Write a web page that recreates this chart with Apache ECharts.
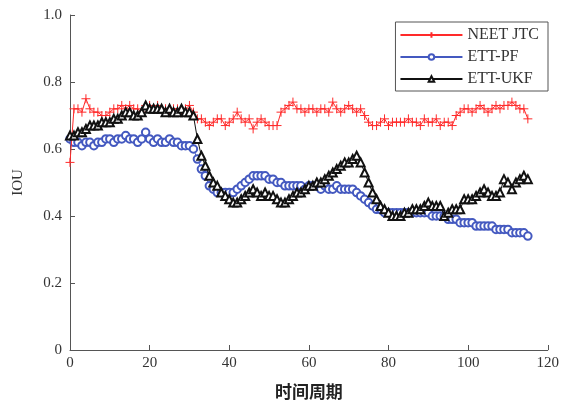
<!DOCTYPE html>
<html><head><meta charset="utf-8">
<script src="https://cdn.jsdelivr.net/npm/echarts@6/dist/echarts.min.js"></script>
<style>html,body{margin:0;padding:0;background:#fff}#c{width:562px;height:408px}</style>
</head><body><div id="c"></div>
<script>
var seriesNames = ['NEET JTC', 'ETT-PF', 'ETT-UKF'];
var xTicks = [0, 20, 40, 60, 80, 100, 120];
var yTicks = [0, 0.2, 0.4, 0.6, 0.8, 1.0];
var neetJtc = [0.56,0.72,0.72,0.71,0.75,0.72,0.71,0.71,0.70,0.70,0.71,0.72,0.72,0.73,0.72,0.73,0.72,0.72,0.71,0.73,
0.73,0.72,0.73,0.72,0.72,0.71,0.72,0.72,0.71,0.72,0.73,0.71,0.69,0.69,0.68,0.67,0.68,0.69,0.69,0.67,
0.68,0.69,0.71,0.69,0.68,0.69,0.66,0.68,0.69,0.68,0.67,0.67,0.67,0.71,0.72,0.73,0.74,0.72,0.72,0.71,
0.72,0.72,0.71,0.72,0.72,0.71,0.74,0.72,0.71,0.72,0.73,0.72,0.71,0.72,0.70,0.68,0.67,0.67,0.68,0.69,
0.67,0.68,0.68,0.68,0.68,0.69,0.68,0.68,0.67,0.69,0.68,0.68,0.69,0.67,0.68,0.68,0.67,0.70,0.71,0.72,
0.72,0.71,0.72,0.73,0.72,0.71,0.72,0.73,0.72,0.73,0.73,0.74,0.73,0.72,0.72,0.69];
var ettPf = [0.63,0.62,0.62,0.61,0.62,0.62,0.61,0.62,0.62,0.63,0.63,0.62,0.63,0.63,0.64,0.63,0.63,0.62,0.63,0.65,
0.63,0.62,0.63,0.62,0.62,0.63,0.62,0.62,0.61,0.61,0.61,0.60,0.57,0.54,0.52,0.49,0.48,0.47,0.47,0.47,
0.47,0.47,0.48,0.49,0.50,0.51,0.52,0.52,0.52,0.52,0.51,0.51,0.50,0.50,0.49,0.49,0.49,0.49,0.49,0.48,
0.49,0.49,0.49,0.48,0.49,0.48,0.48,0.49,0.48,0.48,0.48,0.48,0.47,0.46,0.45,0.44,0.43,0.42,0.42,0.41,
0.41,0.41,0.41,0.41,0.41,0.41,0.41,0.41,0.41,0.41,0.41,0.40,0.40,0.40,0.40,0.39,0.39,0.39,0.38,0.38,
0.38,0.38,0.37,0.37,0.37,0.37,0.37,0.36,0.36,0.36,0.36,0.35,0.35,0.35,0.35,0.34];
var ettUkf = [0.64,0.64,0.65,0.65,0.66,0.67,0.67,0.67,0.68,0.68,0.68,0.69,0.69,0.70,0.71,0.71,0.70,0.70,0.71,0.73,
0.72,0.72,0.72,0.72,0.71,0.72,0.71,0.71,0.72,0.71,0.71,0.70,0.63,0.58,0.55,0.52,0.50,0.49,0.47,0.46,
0.45,0.44,0.44,0.45,0.46,0.47,0.48,0.47,0.46,0.47,0.46,0.46,0.45,0.44,0.44,0.45,0.46,0.47,0.47,0.48,
0.49,0.49,0.50,0.50,0.51,0.52,0.53,0.54,0.55,0.56,0.56,0.57,0.58,0.56,0.53,0.50,0.47,0.45,0.43,0.42,
0.41,0.40,0.40,0.40,0.41,0.41,0.42,0.42,0.42,0.43,0.44,0.43,0.43,0.43,0.40,0.41,0.42,0.42,0.42,0.45,
0.45,0.45,0.46,0.47,0.48,0.47,0.46,0.46,0.47,0.51,0.50,0.48,0.50,0.51,0.52,0.51];

function pairs(arr){ return arr.map(function(v,i){ return [i, v]; }); }

var serif = '"Liberation Serif","DejaVu Serif",serif';
var chart = echarts.init(document.getElementById('c'), null, {renderer:'canvas'});
var plus = 'path://M5,0L5,10M0,5L10,5';
chart.setOption({
  animation: false,
  backgroundColor: '#fff',
  grid: {left: 70, right: 13, top: 15, bottom: 58},
  legend: {
    orient: 'vertical', right: 14, top: 22,
    itemWidth: 62, itemHeight: 7, itemGap: 6,
    padding: [5, 9, 4, 4],
    borderColor: '#555', borderWidth: 1, backgroundColor: '#fff',
    textStyle: {fontFamily: serif, fontSize: 16, color: '#333'},
    data: seriesNames
  },
  xAxis: {
    type: 'value', min: 0, max: 120, interval: 20,
    name: '时间周期', nameLocation: 'middle', nameGap: 33,
    nameTextStyle: {fontFamily: '"Noto Sans CJK SC"', fontSize: 17, fontWeight: 'bold', color: '#222'},
    axisLine: {lineStyle: {color: '#555', width: 1}},
    axisTick: {inside: true, length: 5, lineStyle: {color: '#555'}},
    axisLabel: {fontFamily: serif, fontSize: 15, color: '#333', margin: 6},
    splitLine: {show: false}
  },
  yAxis: {
    type: 'value', min: 0, max: 1, interval: 0.2,
    name: 'IOU', nameLocation: 'middle', nameGap: 44, nameRotate: 90,
    nameTextStyle: {fontFamily: serif, fontSize: 15, color: '#333'},
    axisLine: {show: true, lineStyle: {color: '#555', width: 1}},
    axisTick: {show: true, inside: true, length: 5, lineStyle: {color: '#555'}},
    axisLabel: {fontFamily: serif, fontSize: 15, color: '#333', margin: 8,
      formatter: function(v){ return v === 0 ? '0' : v.toFixed(1); }},
    splitLine: {show: false}
  },
  series: [
    {name: seriesNames[0], type: 'line', data: pairs(neetJtc), symbol: plus, symbolSize: 9,
     lineStyle: {color: '#ff2a2a', width: 1}, itemStyle: {color: '#ff2a2a', borderColor: '#ff2a2a', borderWidth: 1}, z: 3},
    {name: seriesNames[1], type: 'line', data: pairs(ettPf), symbol: 'emptyCircle', symbolSize: 7.5,
     lineStyle: {color: '#4459c0', width: 1}, itemStyle: {color: '#4459c0', borderColor: '#4459c0', borderWidth: 1}, z: 2},
    {name: seriesNames[2], type: 'line', data: pairs(ettUkf), symbol: 'emptyTriangle', symbolSize: 8,
     lineStyle: {color: '#111', width: 1}, itemStyle: {color: '#111', borderColor: '#111', borderWidth: 1}, z: 4}
  ]
});
</script></body></html>
